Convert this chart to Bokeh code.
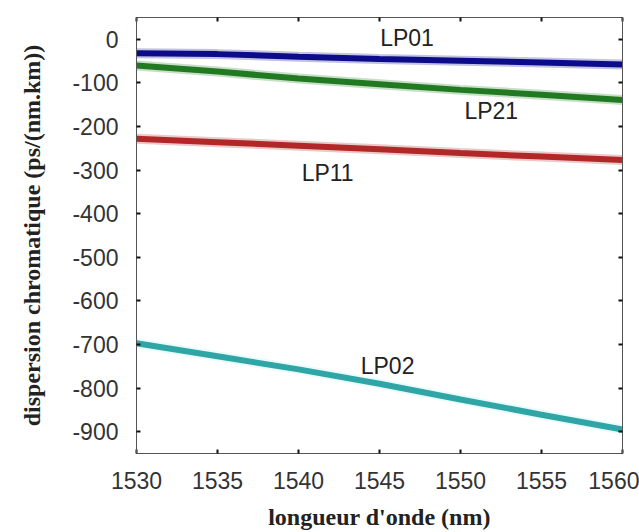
from bokeh.plotting import figure
from bokeh.models import ColumnDataSource, FixedTicker, LinearAxis, Range1d
from bokeh.embed import file_html
from bokeh.resources import INLINE
from bokeh.core.properties import value

# ---- data ----
wavelength = [1530, 1535, 1540, 1545, 1550, 1555, 1560]
lp01 = [-32, -34, -40, -45, -49, -53, -58]
lp21 = [-60, -74, -90, -103, -116, -127, -139]
lp11 = [-228, -236, -244, -252, -261, -269, -277]
lp02 = [-697, -727, -757, -790, -826, -861, -895]

mode_names = ["LP01", "LP21", "LP11", "LP02"]
label_x = [1546.7, 1551.9, 1541.8, 1545.5]
label_y = [2, -164, -306, -749]

x_ticks = [1530, 1535, 1540, 1545, 1550, 1555, 1560]
y_ticks = [0, -100, -200, -300, -400, -500, -600, -700, -800, -900]

colors = {"LP01": "#0c0c8a", "LP21": "#217a21", "LP11": "#b02828", "LP02": "#2fa5a5"}
series = {"LP01": lp01, "LP21": lp21, "LP11": lp11, "LP02": lp02}

p = figure(width=639, height=532,
           x_range=Range1d(1530, 1560), y_range=Range1d(-950, 50),
           output_backend="svg", toolbar_location=None,
           min_border_left=136, min_border_right=17,
           min_border_top=17, min_border_bottom=79)
p.background_fill_color = "white"
p.border_fill_color = "white"
p.xgrid.visible = False
p.ygrid.visible = False
p.outline_line_color = "#555555"
p.outline_line_width = 1

for name in ["LP01", "LP21", "LP11", "LP02"]:
    src = ColumnDataSource(dict(x=wavelength, y=series[name]))
    halo = "#a8f0f0" if name == "LP02" else colors[name]
    p.line("x", "y", source=src, line_color=halo, line_width=10, line_alpha=0.25)
    p.line("x", "y", source=src, line_color=colors[name], line_width=6)

lab = ColumnDataSource(dict(x=label_x, y=label_y, t=mode_names))
p.text("x", "y", text="t", source=lab, text_font=value("Liberation Sans"),
       text_font_size="23px", text_color="#222222",
       text_align="center", text_baseline="middle")

for ax in p.xaxis:
    ax.ticker = FixedTicker(ticks=x_ticks)
    ax.axis_label = "longueur d'onde (nm)"
for ax in p.yaxis:
    ax.ticker = FixedTicker(ticks=y_ticks)
    ax.axis_label = "dispersion chromatique (ps/(nm.km))"
    ax.major_label_overrides = {t: str(t) for t in y_ticks}

for ax in list(p.xaxis) + list(p.yaxis):
    ax.axis_line_color = "#555555"
    ax.major_tick_in = 4
    ax.major_tick_out = 0
    ax.major_tick_line_color = "#111111"
    ax.major_tick_line_width = 2
    ax.minor_tick_line_color = None
    ax.major_label_text_font = "Liberation Sans"
    ax.major_label_text_font_size = "23px"
    ax.major_label_text_color = "#333333"
    ax.axis_label_text_font = "Liberation Serif"
    ax.axis_label_text_font_style = "bold"
    ax.axis_label_text_font_size = "24px"
    ax.axis_label_text_color = "#222222"

p.xaxis.major_label_standoff = 18
p.xaxis.axis_label_standoff = 12
p.yaxis.major_label_standoff = 18
p.yaxis.axis_label_standoff = 24

for loc, tks in (("right", y_ticks), ("above", x_ticks)):
    a = LinearAxis(ticker=FixedTicker(ticks=tks))
    a.axis_line_color = "#555555"
    a.major_tick_in = 4
    a.major_tick_out = 0
    a.major_tick_line_color = "#111111"
    a.major_tick_line_width = 2
    a.minor_tick_line_color = None
    a.major_label_text_color = None
    a.major_label_text_font_size = "1px"
    a.major_label_standoff = 0
    p.add_layout(a, loc)

open("out.html", "w").write(file_html(p, INLINE))
